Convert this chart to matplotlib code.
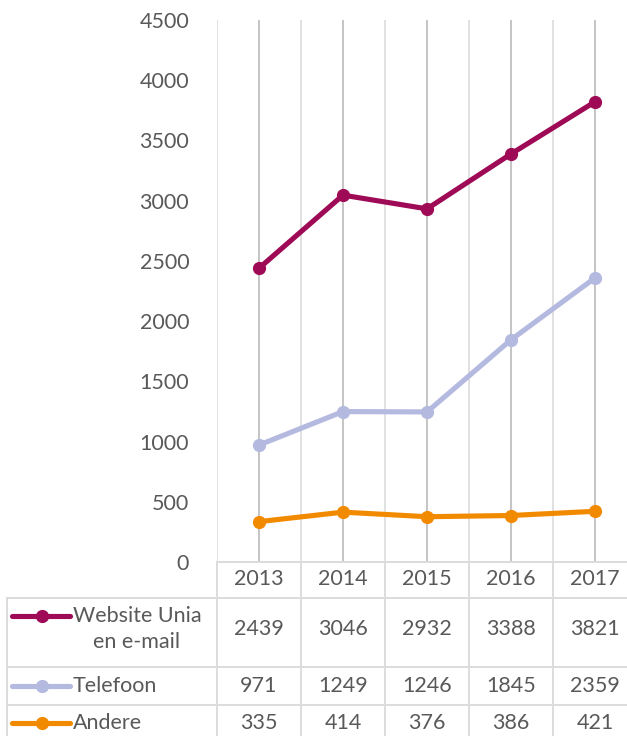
import matplotlib
matplotlib.use("Agg")
import matplotlib.pyplot as plt
import numpy as np

years = ["2013", "2014", "2015", "2016", "2017"]
series_names = ["Website Unia\nen e-mail", "Telefoon", "Andere"]
website = [2439, 3046, 2932, 3388, 3821]
telefoon = [971, 1249, 1246, 1845, 2359]
andere = [335, 414, 376, 386, 421]
y_ticks = [0, 500, 1000, 1500, 2000, 2500, 3000, 3500, 4000, 4500]

colors = ["#9E0A55", "#B4B9DF", "#F28A00"]
text_color = "#595959"
grid_dark = "#C4C4C4"
grid_light = "#DCDCDC"

plt.rcParams["font.family"] = ["Lato", "DejaVu Sans"]
fs = 15.5

W, H = 627, 736
fig = plt.figure(figsize=(W / 100, H / 100), dpi=100)

# chart area: x from 217px to 637px (runs past the right edge), y from 20px to 562px
left = 217 / W
width = 420 / W
ax = fig.add_axes([left, (H - 562) / H, width, (562 - 20) / H])
tab = fig.add_axes([left, 0, width, (H - 562) / H], sharex=ax)

x = np.arange(len(years))
series = [website, telefoon, andere]

ax.set_xlim(-0.5, len(years) - 0.5)
ax.set_ylim(0, 4500)
ax.set_yticks(y_ticks)
ax.tick_params(axis="y", length=0, pad=20, labelcolor=text_color, labelsize=fs)
ax.tick_params(axis="x", length=0, labelbottom=False)
for s in ax.spines.values():
    s.set_visible(False)

# vertical gridlines: darker on categories, lighter on boundaries
for i in x:
    ax.axvline(i, color=grid_dark, lw=1.4, zorder=0)
for b in np.arange(-0.5, len(years), 1.0):
    ax.axvline(b, color=grid_light, lw=1.2, zorder=0)

for vals, c in zip(series, colors):
    ax.plot(x, vals, color=c, lw=3.7, marker="o", markersize=8.5, zorder=3,
            solid_capstyle="round")

# data table below the chart, y in pixels from chart bottom
tab.set_ylim(174, 0)
tab.axis("off")
row_lines = [36, 105, 143]
row_text_y = [67, 124, 161]
col_left = -3.0

tab.plot([-0.5, len(years) - 0.5], [0, 0], color=grid_light, lw=1.4, clip_on=False)
for yl in row_lines:
    tab.plot([col_left, len(years) - 0.5], [yl, yl], color=grid_light, lw=1.4,
             clip_on=False)
for b in np.arange(-0.5, len(years), 1.0):
    tab.plot([b, b], [0, 180], color=grid_light, lw=1.4, clip_on=False)
tab.plot([col_left, col_left], [36, 180], color=grid_light, lw=1.4, clip_on=False)

for i, yr in enumerate(years):
    tab.text(i, 17, yr, ha="center", va="center", color=text_color, fontsize=fs)

key_y = [54, 124, 161]
for r, (name, vals, c) in enumerate(zip(series_names, series, colors)):
    tab.plot([-2.94, -2.25], [key_y[r], key_y[r]], color=c, lw=3.7,
             solid_capstyle="round", clip_on=False)
    tab.plot([-2.58], [key_y[r]], marker="o", color=c, markersize=8.5,
             clip_on=False)
    tab.text(-2.22, row_text_y[r], name, ha="left", va="center",
             multialignment="center", color=text_color, fontsize=fs,
             linespacing=1.4)
    for i, v in enumerate(vals):
        tab.text(i, row_text_y[r], str(v), ha="center", va="center",
                 color=text_color, fontsize=fs)

fig.savefig("out.png", dpi=100)
